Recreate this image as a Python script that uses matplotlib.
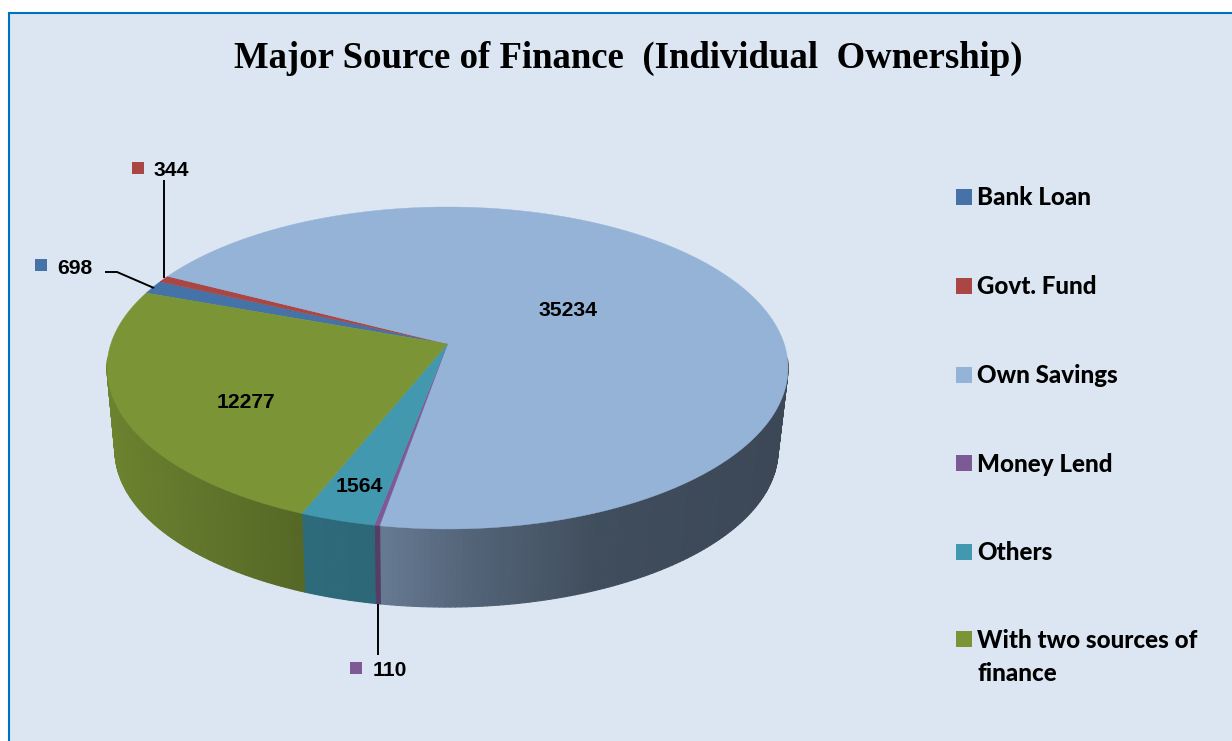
import numpy as np
import matplotlib
matplotlib.use("Agg")
import matplotlib.pyplot as plt
from matplotlib.patches import Rectangle
from matplotlib.collections import PolyCollection
from matplotlib.colors import to_rgb

title = "Major Source of Finance  (Individual  Ownership)"
categories = ["Bank Loan", "Govt. Fund", "Own Savings", "Money Lend", "Others", "With two sources of\nfinance"]
values = [698, 344, 35234, 110, 1564, 12277]
colors = ["#4572A7", "#AA4643", "#95B3D7", "#7D5A96", "#4198AF", "#7A9436"]

W, H = 1232, 741
fig = plt.figure(figsize=(W / 100, H / 100), dpi=100, facecolor="white")
ax = fig.add_axes([0, 0, 1, 1])
ax.set_xlim(0, W)
ax.set_ylim(H, 0)
ax.axis("off")

ax.add_patch(Rectangle((9, 12.7), W + 20, H + 20, facecolor="#DCE6F2", edgecolor="#0070C0", linewidth=1.5, zorder=0))

# perspective projection of the circular pie
CX, APEX_Y, A, B, K = 447.5, 344.0, 336.7, 157.4, 0.149
BOT_CX, BOT_Y, BOT_S = 446.5, 427.0, 0.9736
START = 289.9


def project(deg, cx, y0, s=1.0):
    t = np.radians(deg)
    d = 1 + K * np.cos(t)
    return cx + s * A * np.sin(t) / d, y0 - s * B * np.cos(t) / d


def shade(x):
    return np.interp(x, [107, 300, 380, 470, 600, 790], [0.88, 0.70, 0.68, 0.56, 0.43, 0.40])


total = sum(values)
sweeps = [v / total * 360 for v in values]
edges = START + np.concatenate([[0], np.cumsum(sweeps)])

polys, fc = [], []
for i, col in enumerate(colors):
    base = np.array(to_rgb(col))
    n = max(2, int(sweeps[i] / 0.8))
    ts = np.linspace(edges[i], edges[i + 1], n + 1)
    x1, y1 = project(ts, CX, APEX_Y)
    x2, y2 = project(ts, BOT_CX, BOT_Y, BOT_S)
    for j in range(n):
        if np.cos(np.radians(ts[j])) > -0.1 and np.cos(np.radians(ts[j + 1])) > -0.1:
            continue
        polys.append([(x1[j], y1[j]), (x1[j + 1], y1[j + 1]), (x2[j + 1], y2[j + 1]), (x2[j], y2[j])])
        fc.append(tuple(base * shade((x1[j] + x1[j + 1]) / 2)))
ax.add_collection(PolyCollection(polys, facecolors=fc, edgecolors=fc, linewidths=0.8, zorder=1))

for i, col in enumerate(colors):
    ts = np.linspace(edges[i], edges[i + 1], max(3, int(sweeps[i] * 2)))
    x, y = project(ts, CX, APEX_Y)
    ax.fill(np.r_[CX, x], np.r_[APEX_Y, y], facecolor=col, edgecolor=col, linewidth=0.3, zorder=2)

ax.text(628, 58, title, family="Liberation Serif", weight="bold", fontsize=26.5, ha="center", va="center", color="black", zorder=5)

# leader lines
for xs, ys in [([164, 164], [180, 278]), ([105, 117, 154], [272, 272, 288]), ([378, 378], [604, 655])]:
    ax.plot(xs, ys, color="black", linewidth=1.4, solid_capstyle="butt", zorder=3)

# data labels
inside = {2: (568, 311), 4: (359.5, 486), 5: (245.5, 402)}
outside = {0: (40.5, 264.5, 75, 268), 1: (137.5, 167.5, 171.5, 170), 3: (355.5, 667.5, 390, 670)}
lab = dict(family="Liberation Sans", weight="bold", fontsize=15.2, ha="center", va="center", color="black", zorder=5)
for i, (x, y) in inside.items():
    ax.text(x, y, str(values[i]), **lab)
for i, (mx, my, x, y) in outside.items():
    ax.scatter([mx], [my], marker="s", s=63, color=colors[i], linewidths=0, zorder=4)
    ax.text(x, y, str(values[i]), **lab)

# legend
legend_y = [196.5, 285.5, 374.5, 463, 552, 639]
for name, col, y in zip(categories, colors, legend_y):
    ax.scatter([963.5], [y], marker="s", s=117, color=col, linewidths=0, zorder=4)
    ax.text(977, y - 10.5, name, family="Lato", weight="black", fontsize=17.4, ha="left", va="top",
            color="black", linespacing=1.55, zorder=5)

fig.savefig("out.png", dpi=100, facecolor="white")
